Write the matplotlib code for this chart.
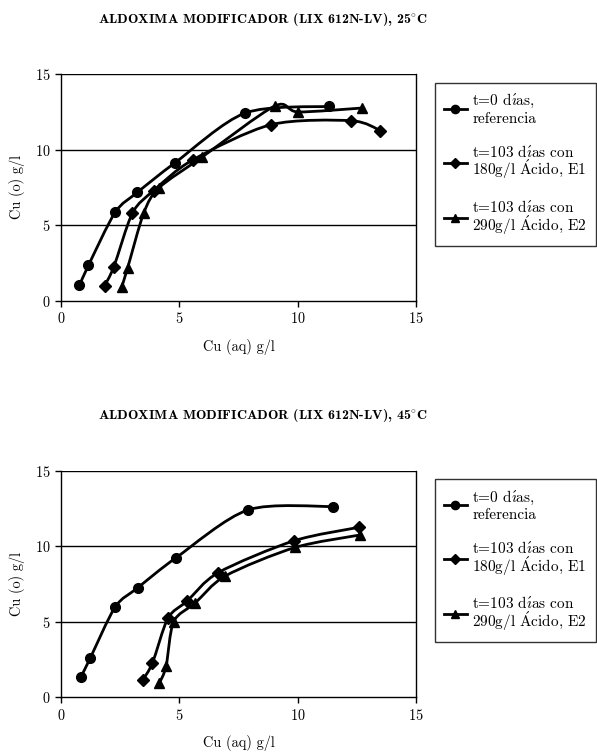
import numpy as np
import matplotlib
matplotlib.use('Agg')
import matplotlib.pyplot as plt
from matplotlib.path import Path
from matplotlib.patches import PathPatch
from matplotlib.lines import Line2D

plt.rcParams['font.family'] = ['cmr10', 'DejaVu Serif']
plt.rcParams['mathtext.fontset'] = 'cm'
plt.rcParams['font.size'] = 10.3
plt.rcParams['axes.formatter.use_mathtext'] = True

# 25 C
ref25_x = [0.78, 1.16, 2.29, 3.23, 4.82, 7.78, 11.31]
ref25_y = [1.01, 2.34, 5.85, 7.17, 9.13, 12.42, 12.86]
e1_25_x = [1.84, 2.23, 3.02, 3.91, 5.56, 8.88, 12.27, 13.50]
e1_25_y = [0.99, 2.23, 5.80, 7.28, 9.31, 11.65, 11.91, 11.25]
e2_25_x = [2.57, 2.81, 3.50, 4.15, 5.95, 9.03, 10.02, 12.72]
e2_25_y = [0.93, 2.14, 5.82, 7.48, 9.49, 12.88, 12.49, 12.75]

# 45 C
ref45_x = [0.85, 1.23, 2.29, 3.25, 4.87, 7.91, 11.48]
ref45_y = [1.36, 2.57, 5.97, 7.25, 9.24, 12.40, 12.62]
e1_45_x = [3.45, 3.86, 4.52, 5.32, 6.65, 9.84, 12.61]
e1_45_y = [1.14, 2.25, 5.23, 6.35, 8.25, 10.35, 11.25]
e2_45_x = [4.15, 4.44, 4.76, 5.66, 6.95, 9.89, 12.65]
e2_45_y = [0.91, 2.04, 5.00, 6.22, 8.03, 9.91, 10.74]

# cmr10 has no accented glyphs, so the accents go through mathtext (cm)
dias = r'd$\acute{\imath}$as'
acido = r'$\acute{\mathrm{A}}$cido'
labels = ['t=0 ' + dias + ',\nreferencia',
          't=103 ' + dias + ' con\n180g/l ' + acido + ', E1',
          't=103 ' + dias + ' con\n290g/l ' + acido + ', E2']
markers = ['o', 'D', '^']
msizes = [7, 6, 7]
titles = [r'ALDOXIMA MODIFICADOR (LIX 612N-LV), 25$^{\circ}$C',
          r'ALDOXIMA MODIFICADOR (LIX 612N-LV), 45$^{\circ}$C']


def smooth_path(x, y):
    # Catmull-Rom style bezier through the points (like Excel smoothed lines)
    p = np.column_stack([x, y]).astype(float)
    n = len(p)
    verts = [p[0]]
    codes = [Path.MOVETO]
    for i in range(n - 1):
        p0 = p[i - 1] if i > 0 else p[i]
        p3 = p[i + 2] if i + 2 < n else p[i + 1]
        c1 = p[i] + (p[i + 1] - p0) / 7.0
        c2 = p[i + 1] - (p3 - p[i]) / 7.0
        verts += [c1, c2, p[i + 1]]
        codes += [Path.CURVE4] * 3
    return Path(verts, codes)


fig = plt.figure(figsize=(5.97, 7.53), dpi=100)

panels = [
    (0.6007, [(ref25_x, ref25_y), (e1_25_x, e1_25_y), (e2_25_x, e2_25_y)], 0.9734, 0.8898),
    (0.0741, [(ref45_x, ref45_y), (e1_45_x, e1_45_y), (e2_45_x, e2_45_y)], 0.4467, 0.3635),
]

for k, (bottom, series, ty, ly) in enumerate(panels):
    ax = fig.add_axes([0.1022, bottom, 0.5946, 0.301])
    for (sx, sy), m, ms in zip(series, markers, msizes):
        ax.add_patch(PathPatch(smooth_path(sx, sy), fill=False, lw=2, ec='k',
                               capstyle='round', joinstyle='round'))
        ax.plot(sx, sy, ls='none', marker=m, ms=ms, color='k')
    ax.set_xlim(0, 15)
    ax.set_ylim(0, 15)
    ax.set_xticks([0, 5, 10, 15])
    ax.set_yticks([0, 5, 10, 15])
    ax.tick_params(direction='out', length=4, width=1, colors='k', labelsize=10.3)
    for y in [5, 10, 15]:
        ax.axhline(y, color='k', lw=1, zorder=0)
    ax.spines['top'].set_visible(False)
    for s in ['left', 'bottom', 'right']:
        ax.spines[s].set_linewidth(1)
    ax.set_xlabel('Cu (aq) g/l', va='center')
    ax.set_ylabel('Cu (o) g/l', va='center')
    ax.xaxis.set_label_coords(0.5, -0.203)
    ax.yaxis.set_label_coords(-0.125, 0.5)
    fig.text(0.4405, ty, titles[k], ha='center', va='center', fontsize=10,
             fontweight='bold', family=['cmb10', 'DejaVu Serif'])
    handles = [Line2D([], [], color='k', lw=2, marker=m, ms=ms * 0.85)
               for m, ms in zip(markers, msizes)]
    leg = fig.legend(handles, labels, loc='upper right', bbox_to_anchor=(0.9983, ly),
                     frameon=True, fancybox=False, edgecolor='k', handlelength=1.5,
                     handletextpad=0.35, labelspacing=1.15, borderpad=0.6,
                     borderaxespad=0, fontsize=11)
    leg.get_frame().set_linewidth(1)
    for t in leg.get_texts()[1:]:
        t.set_linespacing(0.88)

fig.savefig('out.png', dpi=100)
